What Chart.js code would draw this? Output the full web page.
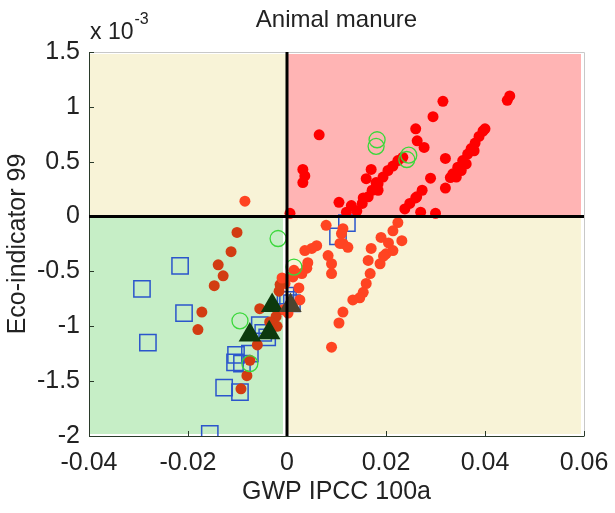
<!DOCTYPE html>
<html lang="en">
<head>
<meta charset="UTF-8">
<title>Animal manure</title>
<script src="https://cdn.jsdelivr.net/npm/chart.js"></script>
<style>
  html, body { margin: 0; padding: 0; background: #fff; }
  canvas { display: block; }
</style>
</head>
<body>
<canvas id="myChart" width="615" height="513"></canvas>
<script>
// y values are in units of 1e-3 (the axis says "x 10^-3")
const xTicks = [-0.04, -0.02, 0, 0.02, 0.04, 0.06];
const yTicks = [-2, -1.5, -1, -0.5, 0, 0.5, 1, 1.5];

// red dots
const dotPoints = [
  [0.0065, 0.745], [0.0315, 1.05], [0.0295, 0.91], [0.026, 0.80], [0.0263, 0.69], [0.0277, 0.63],
  [0.0032, 0.43], [0.0032, 0.31], [0.0036, 0.37], [0.017, 0.43], [0.016, 0.345], [0.0105, 0.13], [0.0006, 0.03],
  [0.0141, 0.05], [0.0152, 0.12], [0.0164, 0.18], [0.0172, 0.24], [0.0184, 0.30], [0.0194, 0.36],
  [0.0204, 0.42], [0.0214, 0.46], [0.0224, 0.51], [0.0234, 0.54], [0.0154, 0.17], [0.0184, 0.24],
  [0.018, 0.31], [0.013, 0.10], [0.012, 0.04],
  [0.029, 0.35], [0.032, 0.53], [0.033, 0.355], [0.032, 0.26], [0.027, 0.04], [0.026, 0.17],
  [0.0238, 0.07], [0.0248, 0.12], [0.0262, 0.18], [0.0273, 0.24], [0.030, 0.03],
  [0.0335, 0.39], [0.0345, 0.45], [0.0355, 0.51], [0.0365, 0.57], [0.0372, 0.62], [0.038, 0.67],
  [0.0388, 0.73], [0.0396, 0.78], [0.040, 0.80], [0.0342, 0.36], [0.0352, 0.42], [0.0362, 0.48],
  [0.0378, 0.60], [0.045, 1.10], [0.0445, 1.06],
  [0.0079, -0.08], [0.0113, -0.11], [0.011, -0.155], [0.0113, -0.245], [0.0107, -0.245], [0.0123, -0.28],
  [0.006, -0.265], [0.005, -0.29], [0.0036, -0.31], [0.0083, -0.355], [0.009, -0.43], [0.009, -0.52],
  [0.0042, -0.42], [0.004, -0.47], [0.003, -0.52], [0.0014, -0.49], [0.0024, -0.65], [0.0026, -0.76],
  [0.0224, -0.055], [0.0214, -0.13], [0.019, -0.19], [0.0232, -0.22], [0.0214, -0.31], [0.020, -0.34],
  [0.0188, -0.43], [0.017, -0.29], [0.0164, -0.40], [0.0168, -0.52], [0.016, -0.61], [0.0154, -0.69],
  [0.0147, -0.74], [0.0133, -0.76], [0.0113, -0.87], [0.0105, -0.97], [0.009, -1.19],
  [0.0205, -0.24], [0.0195, -0.36],
  [-0.0004, -0.61], [-0.0008, -0.85], [0.0012, -0.55], [-0.0016, -0.68], [-0.002, -1.0],
  [-0.0022, -0.91], [-0.0014, -0.62], [0.0002, -0.88], [-0.001, -0.56],
  [-0.0085, 0.14], [-0.0101, -0.145], [-0.0113, -0.32], [-0.0139, -0.44], [-0.0129, -0.54],
  [-0.0147, -0.63], [-0.0172, -0.87], [-0.018, -1.03], [-0.0075, -1.31], [-0.0081, -1.45],
  [-0.0093, -1.57], [-0.006, -1.17], [-0.0055, -0.84], [-0.0035, -0.96]
];

// open blue squares
const squarePoints = [
  [-0.0216, -0.45], [-0.0293, -0.66], [-0.0208, -0.88], [-0.0281, -1.15], [-0.0156, -1.98],
  [-0.0127, -1.56], [-0.0095, -1.60], [-0.0105, -1.33], [-0.0103, -1.26], [-0.0075, -1.25],
  [-0.0055, -0.99], [-0.004, -1.10], [-0.0048, -1.06], [0.0002, -0.76], [0.0121, -0.06],
  [0.0103, -0.18], [0.001, -0.79], [-0.0003, -0.72], [-0.0091, -1.34]
];

// open green circles
const circlePoints = [
  [0.0182, 0.70], [0.018, 0.64], [0.0246, 0.56], [0.0242, 0.52], [-0.0018, -0.20],
  [-0.0095, -0.95], [-0.0075, -1.34], [0.0014, -0.46]
];

// dark green triangles
const trianglePoints = [[-0.003, -0.81], [-0.0075, -1.08], [-0.0036, -1.06], [0.0007, -0.81]];

const FONT = 'Liberation Sans, Arial, sans-serif';
const toXY = pts => pts.map(p => ({ x: p[0], y: p[1] }));
const fmt = v => String(Number(v.toFixed(3)));

// quadrant colours, zero lines, box and inward ticks
const quadrants = {
  id: 'quadrants',
  beforeDatasetsDraw(chart) {
    const { ctx, chartArea: a, scales: { x, y } } = chart;
    const x0 = x.getPixelForValue(0), y0 = y.getPixelForValue(0);
    ctx.save();
    ctx.fillStyle = '#f8f3d7';
    ctx.fillRect(a.left, a.top + 2, x0 - a.left, y0 - a.top - 2);
    ctx.fillRect(x0, y0, a.right - x0 - 3, a.bottom - y0 - 2);
    ctx.fillStyle = '#ffb4b4';
    ctx.fillRect(x0, a.top + 2, a.right - x0 - 3, y0 - a.top - 2);
    ctx.fillStyle = '#c6eec6';
    ctx.fillRect(a.left, y0, x0 - a.left - 4, a.bottom - y0 - 2);
    ctx.restore();
  },
  afterDatasetsDraw(chart) {
    const { ctx, chartArea: a, scales: { x, y } } = chart;
    const x0 = x.getPixelForValue(0), y0 = y.getPixelForValue(0);
    ctx.save();
    // box
    ctx.lineWidth = 1;
    ctx.strokeStyle = '#c8c8c8';
    ctx.beginPath();
    ctx.moveTo(a.left, a.top + 0.5); ctx.lineTo(a.right + 0.5, a.top + 0.5); ctx.lineTo(a.right + 0.5, a.bottom);
    ctx.stroke();
    ctx.strokeStyle = '#2a3a2a';
    ctx.beginPath();
    ctx.moveTo(a.left + 0.5, a.top); ctx.lineTo(a.left + 0.5, a.bottom + 0.5); ctx.lineTo(a.right + 0.5, a.bottom + 0.5);
    for (const v of yTicks) {
      const py = Math.round(y.getPixelForValue(v)) + 0.5;
      ctx.moveTo(a.left, py); ctx.lineTo(a.left + 5, py);
    }
    for (const v of xTicks) {
      const px = Math.round(x.getPixelForValue(v)) + 0.5;
      ctx.moveTo(px, a.bottom); ctx.lineTo(px, a.bottom - 5);
    }
    ctx.stroke();
    // zero lines
    ctx.strokeStyle = '#000';
    ctx.lineWidth = 3;
    ctx.beginPath();
    ctx.moveTo(x0, a.top); ctx.lineTo(x0, a.bottom);
    ctx.moveTo(a.left, y0); ctx.lineTo(a.right, y0);
    ctx.stroke();
    // exponent label
    ctx.fillStyle = '#222';
    ctx.textBaseline = 'alphabetic';
    ctx.font = '23px ' + FONT;
    ctx.fillText('x 10', a.left + 1, a.top - 13);
    const w = ctx.measureText('x 10').width;
    ctx.font = '16px ' + FONT;
    ctx.fillText('-3', a.left + 2 + w, a.top - 28);
    ctx.restore();
  }
};

new Chart(document.getElementById('myChart'), {
  type: 'scatter',
  data: {
    datasets: [
      {
        label: 'triangles',
        data: toXY(trianglePoints),
        pointStyle: 'triangle',
        pointRadius: 13,
        backgroundColor: ['#0d3a0d', '#0d3a0d', '#0d3a0d', '#4a4530'],
        borderColor: ['#0d3a0d', '#0d3a0d', '#0d3a0d', '#4a4530'],
        borderWidth: 0
      },
      {
        label: 'circles',
        data: toXY(circlePoints),
        pointStyle: 'circle',
        pointRadius: 8,
        backgroundColor: 'rgba(0,0,0,0)',
        borderColor: '#3ad83a',
        borderWidth: 1.3
      },
      {
        label: 'dots',
        data: toXY(dotPoints),
        pointStyle: 'circle',
        pointRadius: 5.5,
        borderWidth: 0,
        backgroundColor: ctx => {
          const p = ctx.raw;
          if (!p) return '#ff0000';
          if (p.x > 0 && p.y > 0) return '#ff0000';
          if (p.x < -0.001 && p.y < 0) return '#d23c12';
          return '#ff4422';
        }
      },
      {
        label: 'squares',
        data: toXY(squarePoints),
        pointStyle: 'rect',
        pointRadius: 11.5,
        backgroundColor: 'rgba(0,0,0,0)',
        borderColor: '#2b55cc',
        borderWidth: 1.5
      }
    ]
  },
  options: {
    responsive: false,
    animation: false,
    events: [],
    layout: { padding: { left: 0, right: 31, top: 0, bottom: 0 } },
    plugins: {
      legend: { display: false },
      tooltip: { enabled: false },
      title: {
        display: true,
        text: 'Animal manure',
        fullSize: false,
        color: '#222',
        font: { family: FONT, size: 24, weight: 'normal' },
        padding: { top: 6, bottom: 17.2 }
      }
    },
    scales: {
      x: {
        type: 'linear',
        min: xTicks[0],
        max: xTicks[xTicks.length - 1],
        afterBuildTicks: s => { s.ticks = xTicks.map(v => ({ value: v })); },
        afterFit: s => { s.height = 77; s.paddingLeft = 0; s.paddingRight = 0; },
        grid: { display: false, drawTicks: false, tickLength: 0 },
        border: { display: false },
        ticks: { color: '#222', padding: 12, font: { family: FONT, size: 25 }, maxRotation: 0, callback: fmt },
        title: {
          display: true,
          text: 'GWP IPCC 100a',
          color: '#222',
          font: { family: FONT, size: 25 },
          padding: { top: 0, bottom: 6 }
        }
      },
      y: {
        type: 'linear',
        min: yTicks[0],
        max: yTicks[yTicks.length - 1],
        afterBuildTicks: s => { s.ticks = yTicks.map(v => ({ value: v })); },
        afterFit: s => { s.width = 89; },
        grid: { display: false, drawTicks: false, tickLength: 0 },
        border: { display: false },
        ticks: { color: '#222', padding: 9, font: { family: FONT, size: 25 }, callback: fmt },
        title: {
          display: true,
          text: 'Eco-indicator 99',
          color: '#222',
          font: { family: FONT, size: 25 },
          padding: { top: 3, bottom: 0 }
        }
      }
    }
  },
  plugins: [quadrants]
});
</script>
</body>
</html>
